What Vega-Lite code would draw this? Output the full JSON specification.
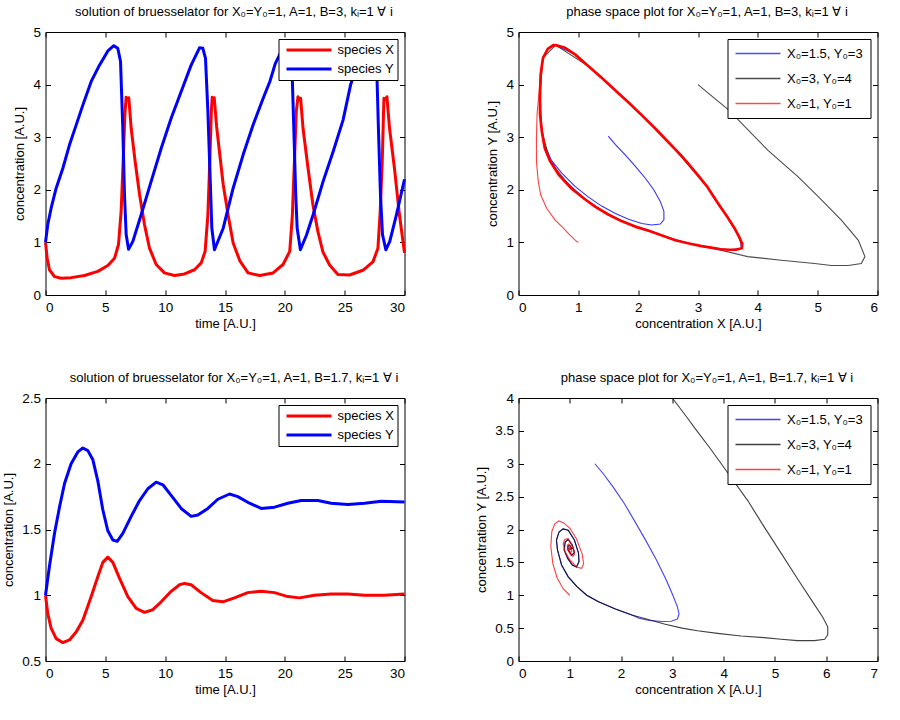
{
"$schema": "https://vega.github.io/schema/vega-lite/v6.json",
"background": "white",
"padding": {"left": 1.5, "top": 5, "right": 5, "bottom": 5},
"config": {
  "font": "Liberation Sans",
  "view": {"stroke": "#000", "strokeWidth": 1},
  "axis": {"domain": false, "grid": false, "ticks": true, "tickSize": -5, "tickColor": "#000", "tickWidth": 1, "labelFontSize": 13.5, "labelColor": "#000", "labelPadding": 10, "titleFontSize": 13, "titleFontWeight": "normal", "titleColor": "#000"},
  "axisX": {"titlePadding": 4},
  "axisY": {"titlePadding": 6},
  "title": {"fontSize": 13, "fontWeight": "normal", "color": "#000", "anchor": "middle", "frame": "group", "offset": 6, "dx": 9},
  "legend": {"title": null, "orient": "top-right", "offset": 7, "symbolType": "M-3.75,0H3.75", "symbolSize": 144, "labelFontSize": 13, "labelColor": "#000", "strokeColor": "#000", "fillColor": "#fff"}
},
"datasets": {
"ts3": [
{"t":0,"species":"species X","c":1.0},{"t":0.14,"species":"species X","c":0.70},{"t":0.33,"species":"species X","c":0.48},{"t":0.75,"species":"species X","c":0.35},{"t":1.31,"species":"species X","c":0.32},{"t":2.14,"species":"species X","c":0.33},{"t":3.26,"species":"species X","c":0.37},{"t":4.37,"species":"species X","c":0.45},{"t":5.21,"species":"species X","c":0.56},{"t":5.77,"species":"species X","c":0.70},{"t":6.1,"species":"species X","c":0.96},{"t":6.32,"species":"species X","c":1.59},{"t":6.49,"species":"species X","c":2.54},{"t":6.63,"species":"species X","c":3.42},{"t":6.74,"species":"species X","c":3.76},{"t":6.85,"species":"species X","c":3.71},{"t":6.96,"species":"species X","c":3.75},{"t":7.16,"species":"species X","c":3.17},{"t":7.49,"species":"species X","c":2.54},{"t":7.86,"species":"species X","c":1.91},{"t":8.27,"species":"species X","c":1.34},{"t":8.69,"species":"species X","c":0.89},{"t":9.25,"species":"species X","c":0.58},{"t":9.94,"species":"species X","c":0.42},{"t":10.78,"species":"species X","c":0.37},{"t":11.62,"species":"species X","c":0.40},{"t":12.45,"species":"species X","c":0.48},{"t":13.01,"species":"species X","c":0.61},{"t":13.34,"species":"species X","c":0.83},{"t":13.57,"species":"species X","c":1.53},{"t":13.73,"species":"species X","c":2.54},{"t":13.86,"species":"species X","c":3.5},{"t":13.93,"species":"species X","c":3.76},{"t":14.01,"species":"species X","c":3.70},{"t":14.1,"species":"species X","c":3.75},{"t":14.3,"species":"species X","c":3.2},{"t":14.6,"species":"species X","c":2.6},{"t":14.85,"species":"species X","c":2.1},{"t":15.26,"species":"species X","c":1.52},{"t":15.68,"species":"species X","c":0.99},{"t":16.24,"species":"species X","c":0.65},{"t":16.93,"species":"species X","c":0.42},{"t":17.9,"species":"species X","c":0.37},{"t":19.02,"species":"species X","c":0.42},{"t":19.85,"species":"species X","c":0.58},{"t":20.41,"species":"species X","c":0.83},{"t":20.63,"species":"species X","c":1.52},{"t":20.8,"species":"species X","c":2.54},{"t":20.96,"species":"species X","c":3.49},{"t":21.1,"species":"species X","c":3.77},{"t":21.24,"species":"species X","c":3.71},{"t":21.32,"species":"species X","c":3.74},{"t":21.52,"species":"species X","c":3.17},{"t":21.94,"species":"species X","c":2.41},{"t":22.35,"species":"species X","c":1.71},{"t":22.77,"species":"species X","c":1.20},{"t":23.18,"species":"species X","c":0.82},{"t":23.74,"species":"species X","c":0.57},{"t":24.44,"species":"species X","c":0.39},{"t":25.41,"species":"species X","c":0.38},{"t":26.52,"species":"species X","c":0.47},{"t":27.36,"species":"species X","c":0.63},{"t":27.78,"species":"species X","c":0.89},{"t":27.97,"species":"species X","c":1.59},{"t":28.14,"species":"species X","c":2.54},{"t":28.28,"species":"species X","c":3.74},{"t":28.42,"species":"species X","c":3.71},{"t":28.53,"species":"species X","c":3.77},{"t":28.75,"species":"species X","c":3.17},{"t":29.16,"species":"species X","c":2.41},{"t":29.58,"species":"species X","c":1.52},{"t":30.0,"species":"species X","c":0.80},
{"t":0,"species":"species Y","c":1.0},{"t":0.19,"species":"species Y","c":1.34},{"t":0.47,"species":"species Y","c":1.65},{"t":0.89,"species":"species Y","c":2.03},{"t":1.45,"species":"species Y","c":2.41},{"t":2.0,"species":"species Y","c":2.85},{"t":2.56,"species":"species Y","c":3.23},{"t":3.12,"species":"species Y","c":3.61},{"t":3.82,"species":"species Y","c":4.06},{"t":4.51,"species":"species Y","c":4.37},{"t":5.21,"species":"species Y","c":4.64},{"t":5.71,"species":"species Y","c":4.74},{"t":6.04,"species":"species Y","c":4.69},{"t":6.27,"species":"species Y","c":4.44},{"t":6.46,"species":"species Y","c":3.17},{"t":6.6,"species":"species Y","c":1.91},{"t":6.74,"species":"species Y","c":1.15},{"t":6.94,"species":"species Y","c":0.87},{"t":7.3,"species":"species Y","c":1.02},{"t":8.0,"species":"species Y","c":1.53},{"t":8.83,"species":"species Y","c":2.16},{"t":9.67,"species":"species Y","c":2.79},{"t":10.5,"species":"species Y","c":3.36},{"t":11.34,"species":"species Y","c":3.87},{"t":12.17,"species":"species Y","c":4.37},{"t":12.87,"species":"species Y","c":4.70},{"t":13.15,"species":"species Y","c":4.69},{"t":13.37,"species":"species Y","c":4.50},{"t":13.57,"species":"species Y","c":3.49},{"t":13.76,"species":"species Y","c":2.22},{"t":13.9,"species":"species Y","c":1.27},{"t":14.12,"species":"species Y","c":0.86},{"t":14.85,"species":"species Y","c":1.27},{"t":15.68,"species":"species Y","c":2.03},{"t":16.52,"species":"species Y","c":2.67},{"t":17.36,"species":"species Y","c":3.24},{"t":18.19,"species":"species Y","c":3.74},{"t":18.75,"species":"species Y","c":4.06},{"t":19.2,"species":"species Y","c":4.4},{"t":19.8,"species":"species Y","c":4.68},{"t":20.1,"species":"species Y","c":4.72},{"t":20.4,"species":"species Y","c":4.55},{"t":20.63,"species":"species Y","c":4.07},{"t":20.75,"species":"species Y","c":3.17},{"t":20.91,"species":"species Y","c":1.91},{"t":21.03,"species":"species Y","c":1.27},{"t":21.3,"species":"species Y","c":0.86},{"t":21.81,"species":"species Y","c":1.14},{"t":22.37,"species":"species Y","c":1.53},{"t":23.2,"species":"species Y","c":2.16},{"t":24.04,"species":"species Y","c":2.73},{"t":24.87,"species":"species Y","c":3.33},{"t":25.5,"species":"species Y","c":4.0},{"t":26.2,"species":"species Y","c":4.45},{"t":26.9,"species":"species Y","c":4.7},{"t":27.2,"species":"species Y","c":4.72},{"t":27.45,"species":"species Y","c":4.55},{"t":27.71,"species":"species Y","c":4.07},{"t":27.82,"species":"species Y","c":3.17},{"t":27.99,"species":"species Y","c":1.91},{"t":28.16,"species":"species Y","c":1.15},{"t":28.44,"species":"species Y","c":0.86},{"t":28.77,"species":"species Y","c":1.02},{"t":29.33,"species":"species Y","c":1.53},{"t":30.0,"species":"species Y","c":2.2}
],
"ts17": [
{"t":0,"species":"species X","c":1.0},{"t":0.19,"species":"species X","c":0.86},{"t":0.47,"species":"species X","c":0.75},{"t":0.89,"species":"species X","c":0.67},{"t":1.45,"species":"species X","c":0.64},{"t":2.0,"species":"species X","c":0.66},{"t":2.56,"species":"species X","c":0.72},{"t":3.12,"species":"species X","c":0.81},{"t":3.82,"species":"species X","c":0.99},{"t":4.37,"species":"species X","c":1.14},{"t":4.79,"species":"species X","c":1.25},{"t":5.21,"species":"species X","c":1.29},{"t":5.63,"species":"species X","c":1.25},{"t":6.18,"species":"species X","c":1.13},{"t":6.88,"species":"species X","c":0.99},{"t":7.58,"species":"species X","c":0.90},{"t":8.27,"species":"species X","c":0.87},{"t":8.97,"species":"species X","c":0.89},{"t":9.67,"species":"species X","c":0.95},{"t":10.5,"species":"species X","c":1.03},{"t":11.2,"species":"species X","c":1.08},{"t":11.62,"species":"species X","c":1.09},{"t":12.17,"species":"species X","c":1.08},{"t":13.0,"species":"species X","c":1.02},{"t":13.98,"species":"species X","c":0.96},{"t":14.82,"species":"species X","c":0.95},{"t":15.79,"species":"species X","c":0.98},{"t":16.9,"species":"species X","c":1.02},{"t":18.02,"species":"species X","c":1.03},{"t":19.14,"species":"species X","c":1.02},{"t":20.25,"species":"species X","c":0.99},{"t":21.23,"species":"species X","c":0.98},{"t":22.48,"species":"species X","c":1.0},{"t":23.87,"species":"species X","c":1.01},{"t":25.26,"species":"species X","c":1.01},{"t":26.66,"species":"species X","c":1.0},{"t":28.33,"species":"species X","c":1.0},{"t":30.0,"species":"species X","c":1.01},
{"t":0,"species":"species Y","c":1.0},{"t":0.33,"species":"species Y","c":1.22},{"t":0.75,"species":"species Y","c":1.47},{"t":1.17,"species":"species Y","c":1.67},{"t":1.59,"species":"species Y","c":1.85},{"t":2.14,"species":"species Y","c":2.0},{"t":2.7,"species":"species Y","c":2.09},{"t":3.12,"species":"species Y","c":2.12},{"t":3.54,"species":"species Y","c":2.10},{"t":3.96,"species":"species Y","c":2.03},{"t":4.37,"species":"species Y","c":1.87},{"t":4.79,"species":"species Y","c":1.65},{"t":5.21,"species":"species Y","c":1.49},{"t":5.63,"species":"species Y","c":1.42},{"t":5.99,"species":"species Y","c":1.41},{"t":6.46,"species":"species Y","c":1.47},{"t":7.16,"species":"species Y","c":1.60},{"t":7.86,"species":"species Y","c":1.72},{"t":8.55,"species":"species Y","c":1.81},{"t":9.25,"species":"species Y","c":1.86},{"t":9.81,"species":"species Y","c":1.84},{"t":10.5,"species":"species Y","c":1.76},{"t":11.34,"species":"species Y","c":1.66},{"t":12.17,"species":"species Y","c":1.60},{"t":12.73,"species":"species Y","c":1.61},{"t":13.57,"species":"species Y","c":1.66},{"t":14.4,"species":"species Y","c":1.73},{"t":15.38,"species":"species Y","c":1.77},{"t":16.07,"species":"species Y","c":1.75},{"t":17.05,"species":"species Y","c":1.70},{"t":18.02,"species":"species Y","c":1.66},{"t":19.14,"species":"species Y","c":1.67},{"t":20.25,"species":"species Y","c":1.70},{"t":21.36,"species":"species Y","c":1.72},{"t":22.76,"species":"species Y","c":1.72},{"t":23.87,"species":"species Y","c":1.70},{"t":25.26,"species":"species Y","c":1.69},{"t":26.66,"species":"species Y","c":1.70},{"t":28.05,"species":"species Y","c":1.715},{"t":30.0,"species":"species Y","c":1.71}
],
"cyc3": [
{"X":0.62,"Y":4.75},{"X":0.78,"Y":4.70},{"X":0.95,"Y":4.57},{"X":1.17,"Y":4.35},{"X":1.39,"Y":4.13},{"X":1.62,"Y":3.89},{"X":1.84,"Y":3.66},{"X":2.06,"Y":3.42},{"X":2.29,"Y":3.16},{"X":2.51,"Y":2.90},{"X":2.73,"Y":2.64},{"X":2.96,"Y":2.33},{"X":3.16,"Y":2.05},{"X":3.33,"Y":1.75},{"X":3.50,"Y":1.47},{"X":3.61,"Y":1.27},{"X":3.69,"Y":1.10},{"X":3.74,"Y":0.97},{"X":3.73,"Y":0.89},{"X":3.63,"Y":0.86},{"X":3.52,"Y":0.86},{"X":3.38,"Y":0.87},{"X":3.22,"Y":0.90},{"X":3.06,"Y":0.93},{"X":2.85,"Y":0.98},{"X":2.62,"Y":1.04},{"X":2.40,"Y":1.13},{"X":2.18,"Y":1.22},{"X":1.95,"Y":1.30},{"X":1.73,"Y":1.40},{"X":1.50,"Y":1.53},{"X":1.28,"Y":1.68},{"X":1.11,"Y":1.82},{"X":0.89,"Y":2.02},{"X":0.67,"Y":2.29},{"X":0.53,"Y":2.54},{"X":0.44,"Y":2.79},{"X":0.39,"Y":3.11},{"X":0.36,"Y":3.43},{"X":0.36,"Y":3.81},{"X":0.37,"Y":4.19},{"X":0.41,"Y":4.51},{"X":0.49,"Y":4.68},{"X":0.58,"Y":4.75},{"X":0.62,"Y":4.75}
],
"ph3": [
{"run":"X₀=1.5, Y₀=3","X":1.50,"Y":3.02},{"run":"X₀=1.5, Y₀=3","X":1.62,"Y":2.86},{"run":"X₀=1.5, Y₀=3","X":1.78,"Y":2.67},{"run":"X₀=1.5, Y₀=3","X":1.95,"Y":2.45},{"run":"X₀=1.5, Y₀=3","X":2.12,"Y":2.22},{"run":"X₀=1.5, Y₀=3","X":2.26,"Y":2.00},{"run":"X₀=1.5, Y₀=3","X":2.37,"Y":1.78},{"run":"X₀=1.5, Y₀=3","X":2.43,"Y":1.59},{"run":"X₀=1.5, Y₀=3","X":2.43,"Y":1.43},{"run":"X₀=1.5, Y₀=3","X":2.37,"Y":1.35},{"run":"X₀=1.5, Y₀=3","X":2.23,"Y":1.33},{"run":"X₀=1.5, Y₀=3","X":2.06,"Y":1.36},{"run":"X₀=1.5, Y₀=3","X":1.84,"Y":1.44},{"run":"X₀=1.5, Y₀=3","X":1.62,"Y":1.55},{"run":"X₀=1.5, Y₀=3","X":1.39,"Y":1.69},{"run":"X₀=1.5, Y₀=3","X":1.17,"Y":1.86},{"run":"X₀=1.5, Y₀=3","X":0.95,"Y":2.06},{"run":"X₀=1.5, Y₀=3","X":0.72,"Y":2.32},{"run":"X₀=1.5, Y₀=3","X":0.55,"Y":2.56},{"run":"X₀=1.5, Y₀=3","X":0.44,"Y":2.84},{"run":"X₀=1.5, Y₀=3","X":0.39,"Y":3.15},{"run":"X₀=1.5, Y₀=3","X":0.37,"Y":3.38},{"run":"X₀=1.5, Y₀=3","X":0.36,"Y":3.81},{"run":"X₀=1.5, Y₀=3","X":0.37,"Y":4.19},{"run":"X₀=1.5, Y₀=3","X":0.41,"Y":4.51},{"run":"X₀=1.5, Y₀=3","X":0.49,"Y":4.68},{"run":"X₀=1.5, Y₀=3","X":0.62,"Y":4.75},{"run":"X₀=1.5, Y₀=3","X":0.95,"Y":4.57},{"run":"X₀=1.5, Y₀=3","X":1.39,"Y":4.13},{"run":"X₀=1.5, Y₀=3","X":1.84,"Y":3.66},{"run":"X₀=1.5, Y₀=3","X":2.29,"Y":3.16},{"run":"X₀=1.5, Y₀=3","X":2.73,"Y":2.64},{"run":"X₀=1.5, Y₀=3","X":3.16,"Y":2.05},{"run":"X₀=1.5, Y₀=3","X":3.50,"Y":1.47},{"run":"X₀=1.5, Y₀=3","X":3.69,"Y":1.10},{"run":"X₀=1.5, Y₀=3","X":3.73,"Y":0.89},{"run":"X₀=1.5, Y₀=3","X":3.52,"Y":0.86},{"run":"X₀=1.5, Y₀=3","X":3.22,"Y":0.90},{"run":"X₀=1.5, Y₀=3","X":2.85,"Y":0.98},{"run":"X₀=1.5, Y₀=3","X":2.40,"Y":1.13},{"run":"X₀=1.5, Y₀=3","X":1.95,"Y":1.30},{"run":"X₀=1.5, Y₀=3","X":1.50,"Y":1.53},{"run":"X₀=1.5, Y₀=3","X":1.11,"Y":1.82},{"run":"X₀=1.5, Y₀=3","X":0.67,"Y":2.29},{"run":"X₀=1.5, Y₀=3","X":0.44,"Y":2.79},{"run":"X₀=1.5, Y₀=3","X":0.36,"Y":3.43},
{"run":"X₀=3, Y₀=4","X":3.0,"Y":4.0},{"run":"X₀=3, Y₀=4","X":3.51,"Y":3.52},{"run":"X₀=3, Y₀=4","X":4.17,"Y":2.75},{"run":"X₀=3, Y₀=4","X":4.67,"Y":2.25},{"run":"X₀=3, Y₀=4","X":5.01,"Y":1.87},{"run":"X₀=3, Y₀=4","X":5.40,"Y":1.42},{"run":"X₀=3, Y₀=4","X":5.68,"Y":1.04},{"run":"X₀=3, Y₀=4","X":5.79,"Y":0.73},{"run":"X₀=3, Y₀=4","X":5.73,"Y":0.60},{"run":"X₀=3, Y₀=4","X":5.51,"Y":0.56},{"run":"X₀=3, Y₀=4","X":5.23,"Y":0.56},{"run":"X₀=3, Y₀=4","X":4.95,"Y":0.60},{"run":"X₀=3, Y₀=4","X":4.39,"Y":0.66},{"run":"X₀=3, Y₀=4","X":3.83,"Y":0.73},{"run":"X₀=3, Y₀=4","X":3.50,"Y":0.82},{"run":"X₀=3, Y₀=4","X":3.27,"Y":0.88},{"run":"X₀=3, Y₀=4","X":3.06,"Y":0.93},{"run":"X₀=3, Y₀=4","X":2.62,"Y":1.04},{"run":"X₀=3, Y₀=4","X":2.18,"Y":1.22},{"run":"X₀=3, Y₀=4","X":1.73,"Y":1.40},{"run":"X₀=3, Y₀=4","X":1.28,"Y":1.68},{"run":"X₀=3, Y₀=4","X":0.89,"Y":2.02},{"run":"X₀=3, Y₀=4","X":0.53,"Y":2.54},{"run":"X₀=3, Y₀=4","X":0.39,"Y":3.11},{"run":"X₀=3, Y₀=4","X":0.36,"Y":3.81},{"run":"X₀=3, Y₀=4","X":0.41,"Y":4.51},{"run":"X₀=3, Y₀=4","X":0.62,"Y":4.75},{"run":"X₀=3, Y₀=4","X":1.17,"Y":4.35},{"run":"X₀=3, Y₀=4","X":1.84,"Y":3.66},{"run":"X₀=3, Y₀=4","X":2.51,"Y":2.90},{"run":"X₀=3, Y₀=4","X":3.16,"Y":2.05},{"run":"X₀=3, Y₀=4","X":3.61,"Y":1.27},{"run":"X₀=3, Y₀=4","X":3.74,"Y":0.97},
{"run":"X₀=1, Y₀=1","X":1.0,"Y":1.0},{"run":"X₀=1, Y₀=1","X":0.97,"Y":1.02},{"run":"X₀=1, Y₀=1","X":0.86,"Y":1.14},{"run":"X₀=1, Y₀=1","X":0.75,"Y":1.27},{"run":"X₀=1, Y₀=1","X":0.61,"Y":1.43},{"run":"X₀=1, Y₀=1","X":0.47,"Y":1.65},{"run":"X₀=1, Y₀=1","X":0.37,"Y":1.91},{"run":"X₀=1, Y₀=1","X":0.33,"Y":2.16},{"run":"X₀=1, Y₀=1","X":0.30,"Y":2.54},{"run":"X₀=1, Y₀=1","X":0.30,"Y":2.98},{"run":"X₀=1, Y₀=1","X":0.31,"Y":3.43},{"run":"X₀=1, Y₀=1","X":0.34,"Y":3.81},{"run":"X₀=1, Y₀=1","X":0.37,"Y":4.19},{"run":"X₀=1, Y₀=1","X":0.41,"Y":4.51},{"run":"X₀=1, Y₀=1","X":0.49,"Y":4.68},{"run":"X₀=1, Y₀=1","X":0.62,"Y":4.75}
],
"ph17": [
{"run":"X₀=1.5, Y₀=3","X":1.49,"Y":3.0},{"run":"X₀=1.5, Y₀=3","X":1.66,"Y":2.84},{"run":"X₀=1.5, Y₀=3","X":1.85,"Y":2.64},{"run":"X₀=1.5, Y₀=3","X":2.06,"Y":2.40},{"run":"X₀=1.5, Y₀=3","X":2.27,"Y":2.12},{"run":"X₀=1.5, Y₀=3","X":2.47,"Y":1.85},{"run":"X₀=1.5, Y₀=3","X":2.68,"Y":1.55},{"run":"X₀=1.5, Y₀=3","X":2.87,"Y":1.25},{"run":"X₀=1.5, Y₀=3","X":3.01,"Y":1.0},{"run":"X₀=1.5, Y₀=3","X":3.10,"Y":0.82},{"run":"X₀=1.5, Y₀=3","X":3.13,"Y":0.72},{"run":"X₀=1.5, Y₀=3","X":3.10,"Y":0.64},{"run":"X₀=1.5, Y₀=3","X":2.98,"Y":0.605},{"run":"X₀=1.5, Y₀=3","X":2.80,"Y":0.60},{"run":"X₀=1.5, Y₀=3","X":2.55,"Y":0.615},{"run":"X₀=1.5, Y₀=3","X":2.35,"Y":0.65},{"run":"X₀=1.5, Y₀=3","X":2.21,"Y":0.70},{"run":"X₀=1.5, Y₀=3","X":1.89,"Y":0.79},{"run":"X₀=1.5, Y₀=3","X":1.56,"Y":0.90},{"run":"X₀=1.5, Y₀=3","X":1.33,"Y":1.0},{"run":"X₀=1.5, Y₀=3","X":1.14,"Y":1.13},{"run":"X₀=1.5, Y₀=3","X":0.97,"Y":1.28},{"run":"X₀=1.5, Y₀=3","X":0.84,"Y":1.46},{"run":"X₀=1.5, Y₀=3","X":0.76,"Y":1.69},{"run":"X₀=1.5, Y₀=3","X":0.74,"Y":1.84},{"run":"X₀=1.5, Y₀=3","X":0.79,"Y":1.96},{"run":"X₀=1.5, Y₀=3","X":0.87,"Y":2.01},{"run":"X₀=1.5, Y₀=3","X":0.97,"Y":1.99},{"run":"X₀=1.5, Y₀=3","X":1.09,"Y":1.84},{"run":"X₀=1.5, Y₀=3","X":1.17,"Y":1.64},{"run":"X₀=1.5, Y₀=3","X":1.18,"Y":1.51},{"run":"X₀=1.5, Y₀=3","X":1.13,"Y":1.43},{"run":"X₀=1.5, Y₀=3","X":1.05,"Y":1.46},{"run":"X₀=1.5, Y₀=3","X":0.96,"Y":1.56},{"run":"X₀=1.5, Y₀=3","X":0.89,"Y":1.69},{"run":"X₀=1.5, Y₀=3","X":0.91,"Y":1.81},{"run":"X₀=1.5, Y₀=3","X":0.97,"Y":1.85},{"run":"X₀=1.5, Y₀=3","X":1.05,"Y":1.76},{"run":"X₀=1.5, Y₀=3","X":1.09,"Y":1.65},{"run":"X₀=1.5, Y₀=3","X":1.04,"Y":1.61},{"run":"X₀=1.5, Y₀=3","X":0.97,"Y":1.68},{"run":"X₀=1.5, Y₀=3","X":0.96,"Y":1.74},{"run":"X₀=1.5, Y₀=3","X":1.0,"Y":1.76},{"run":"X₀=1.5, Y₀=3","X":1.04,"Y":1.71},{"run":"X₀=1.5, Y₀=3","X":0.99,"Y":1.70},{"run":"X₀=1.5, Y₀=3","X":1.0,"Y":1.70},
{"run":"X₀=3, Y₀=4","X":3.0,"Y":4.0},{"run":"X₀=3, Y₀=4","X":3.29,"Y":3.70},{"run":"X₀=3, Y₀=4","X":3.46,"Y":3.52},{"run":"X₀=3, Y₀=4","X":3.75,"Y":3.22},{"run":"X₀=3, Y₀=4","X":4.10,"Y":2.84},{"run":"X₀=3, Y₀=4","X":4.47,"Y":2.44},{"run":"X₀=3, Y₀=4","X":4.79,"Y":2.04},{"run":"X₀=3, Y₀=4","X":5.12,"Y":1.64},{"run":"X₀=3, Y₀=4","X":5.44,"Y":1.25},{"run":"X₀=3, Y₀=4","X":5.71,"Y":0.93},{"run":"X₀=3, Y₀=4","X":5.93,"Y":0.67},{"run":"X₀=3, Y₀=4","X":6.03,"Y":0.52},{"run":"X₀=3, Y₀=4","X":6.03,"Y":0.40},{"run":"X₀=3, Y₀=4","X":5.97,"Y":0.33},{"run":"X₀=3, Y₀=4","X":5.77,"Y":0.31},{"run":"X₀=3, Y₀=4","X":5.44,"Y":0.31},{"run":"X₀=3, Y₀=4","X":5.12,"Y":0.33},{"run":"X₀=3, Y₀=4","X":4.79,"Y":0.355},{"run":"X₀=3, Y₀=4","X":4.34,"Y":0.38},{"run":"X₀=3, Y₀=4","X":3.88,"Y":0.42},{"run":"X₀=3, Y₀=4","X":3.49,"Y":0.46},{"run":"X₀=3, Y₀=4","X":3.19,"Y":0.50},{"run":"X₀=3, Y₀=4","X":2.86,"Y":0.56},{"run":"X₀=3, Y₀=4","X":2.53,"Y":0.63},{"run":"X₀=3, Y₀=4","X":2.21,"Y":0.70},{"run":"X₀=3, Y₀=4","X":1.89,"Y":0.79},{"run":"X₀=3, Y₀=4","X":1.56,"Y":0.90},{"run":"X₀=3, Y₀=4","X":1.33,"Y":1.0},{"run":"X₀=3, Y₀=4","X":1.14,"Y":1.13},{"run":"X₀=3, Y₀=4","X":0.97,"Y":1.28},{"run":"X₀=3, Y₀=4","X":0.84,"Y":1.46},{"run":"X₀=3, Y₀=4","X":0.76,"Y":1.69},{"run":"X₀=3, Y₀=4","X":0.74,"Y":1.84},{"run":"X₀=3, Y₀=4","X":0.79,"Y":1.96},{"run":"X₀=3, Y₀=4","X":0.87,"Y":2.01},{"run":"X₀=3, Y₀=4","X":0.97,"Y":1.99},{"run":"X₀=3, Y₀=4","X":1.09,"Y":1.84},{"run":"X₀=3, Y₀=4","X":1.17,"Y":1.64},{"run":"X₀=3, Y₀=4","X":1.18,"Y":1.51},{"run":"X₀=3, Y₀=4","X":1.13,"Y":1.43},{"run":"X₀=3, Y₀=4","X":1.05,"Y":1.46},{"run":"X₀=3, Y₀=4","X":0.96,"Y":1.56},{"run":"X₀=3, Y₀=4","X":0.89,"Y":1.69},{"run":"X₀=3, Y₀=4","X":0.91,"Y":1.81},{"run":"X₀=3, Y₀=4","X":0.97,"Y":1.85},{"run":"X₀=3, Y₀=4","X":1.05,"Y":1.76},{"run":"X₀=3, Y₀=4","X":1.09,"Y":1.65},{"run":"X₀=3, Y₀=4","X":1.04,"Y":1.61},{"run":"X₀=3, Y₀=4","X":0.97,"Y":1.68},{"run":"X₀=3, Y₀=4","X":0.96,"Y":1.74},{"run":"X₀=3, Y₀=4","X":1.0,"Y":1.76},{"run":"X₀=3, Y₀=4","X":1.04,"Y":1.71},{"run":"X₀=3, Y₀=4","X":0.99,"Y":1.70},{"run":"X₀=3, Y₀=4","X":1.0,"Y":1.70},
{"run":"X₀=1, Y₀=1","X":1.0,"Y":1.0},{"run":"X₀=1, Y₀=1","X":0.87,"Y":1.10},{"run":"X₀=1, Y₀=1","X":0.75,"Y":1.27},{"run":"X₀=1, Y₀=1","X":0.67,"Y":1.48},{"run":"X₀=1, Y₀=1","X":0.63,"Y":1.74},{"run":"X₀=1, Y₀=1","X":0.65,"Y":1.97},{"run":"X₀=1, Y₀=1","X":0.71,"Y":2.09},{"run":"X₀=1, Y₀=1","X":0.79,"Y":2.13},{"run":"X₀=1, Y₀=1","X":0.88,"Y":2.10},{"run":"X₀=1, Y₀=1","X":1.0,"Y":2.02},{"run":"X₀=1, Y₀=1","X":1.13,"Y":1.86},{"run":"X₀=1, Y₀=1","X":1.24,"Y":1.63},{"run":"X₀=1, Y₀=1","X":1.27,"Y":1.48},{"run":"X₀=1, Y₀=1","X":1.23,"Y":1.41},{"run":"X₀=1, Y₀=1","X":1.13,"Y":1.43},{"run":"X₀=1, Y₀=1","X":1.0,"Y":1.54},{"run":"X₀=1, Y₀=1","X":0.91,"Y":1.66},{"run":"X₀=1, Y₀=1","X":0.87,"Y":1.78},{"run":"X₀=1, Y₀=1","X":0.90,"Y":1.85},{"run":"X₀=1, Y₀=1","X":0.96,"Y":1.86},{"run":"X₀=1, Y₀=1","X":1.03,"Y":1.78},{"run":"X₀=1, Y₀=1","X":1.08,"Y":1.68},{"run":"X₀=1, Y₀=1","X":1.09,"Y":1.62},{"run":"X₀=1, Y₀=1","X":1.06,"Y":1.59},{"run":"X₀=1, Y₀=1","X":1.01,"Y":1.62},{"run":"X₀=1, Y₀=1","X":0.96,"Y":1.70},{"run":"X₀=1, Y₀=1","X":0.95,"Y":1.76},{"run":"X₀=1, Y₀=1","X":0.98,"Y":1.78},{"run":"X₀=1, Y₀=1","X":1.02,"Y":1.73},{"run":"X₀=1, Y₀=1","X":1.04,"Y":1.67},{"run":"X₀=1, Y₀=1","X":1.02,"Y":1.65},{"run":"X₀=1, Y₀=1","X":0.99,"Y":1.68},{"run":"X₀=1, Y₀=1","X":0.98,"Y":1.72},{"run":"X₀=1, Y₀=1","X":1.0,"Y":1.73},{"run":"X₀=1, Y₀=1","X":1.01,"Y":1.70},{"run":"X₀=1, Y₀=1","X":1.0,"Y":1.69},{"run":"X₀=1, Y₀=1","X":1.0,"Y":1.70}
]
},
"columns": 2,
"spacing": {"row": 103, "column": 114},
"bounds": "flush",
"resolve": {"scale": {"x": "independent", "y": "independent", "color": "independent"}, "legend": {"color": "independent"}},
"concat": [
{
 "width": 359, "height": 263,
 "title": {"text": "solution of bruesselator for X₀=Y₀=1, A=1, B=3, kᵢ=1 ∀ i"},
 "data": {"name": "ts3"},
 "resolve": {"axis": {"x": "independent", "y": "independent"}},
 "layer": [
  {"mark": {"type": "line", "strokeWidth": 3, "strokeJoin": "round"},
   "encoding": {
    "x": {"field": "t", "type": "quantitative", "scale": {"domain": [0, 30], "nice": false}, "axis": {"title": "time [A.U.]", "values": [0,5,10,15,20,25,30], "format": "~g"}},
    "y": {"field": "c", "type": "quantitative", "scale": {"domain": [0, 5], "nice": false}, "axis": {"title": "concentration [A.U.]", "values": [0,1,2,3,4,5], "format": "~g"}},
    "color": {"field": "species", "type": "nominal", "scale": {"domain": ["species X", "species Y"], "range": ["#ff0000", "#0000ff"]}, "legend": {"symbolStrokeWidth": 3, "padding": 3.5, "symbolOffset": 19.5, "labelOffset": 21, "rowPadding": 4, "labelExpr": "datum.label + '  '"}},
    "order": {"value": null}
   }},
  {"mark": {"type": "line", "opacity": 0},
   "encoding": {
    "x": {"field": "t", "type": "quantitative", "scale": {"domain": [0, 30], "nice": false}, "axis": {"orient": "top", "labels": false, "title": null, "values": [0,5,10,15,20,25,30]}},
    "y": {"field": "c", "type": "quantitative", "scale": {"domain": [0, 5], "nice": false}, "axis": {"orient": "right", "labels": false, "title": null, "values": [0,1,2,3,4,5]}},
    "detail": {"field": "species"},
    "order": {"value": null}
   }}
 ]
},
{
 "width": 359, "height": 263,
 "title": {"text": "phase space plot for X₀=Y₀=1, A=1, B=3, kᵢ=1 ∀ i"},
 "data": {"name": "ph3"},
 "resolve": {"axis": {"x": "independent", "y": "independent"}},
 "layer": [
  {"transform": [{"filter": {"field": "run", "equal": "X₀=1.5, Y₀=3"}}],
   "mark": {"type": "line", "strokeWidth": 1.1, "opacity": 0.8},
   "encoding": {
    "x": {"field": "X", "type": "quantitative", "scale": {"domain": [0, 6], "nice": false}, "axis": {"title": "concentration X [A.U.]", "values": [0,1,2,3,4,5,6], "format": "~g"}},
    "y": {"field": "Y", "type": "quantitative", "scale": {"domain": [0, 5], "nice": false}, "axis": {"title": "concentration Y [A.U.]", "values": [0,1,2,3,4,5], "format": "~g"}},
    "color": {"field": "run", "type": "nominal", "scale": {"domain": ["X₀=1.5, Y₀=3", "X₀=3, Y₀=4", "X₀=1, Y₀=1"], "range": ["#0000ff", "#000000", "#ff0000"]}, "legend": {"symbolStrokeWidth": 1.5, "symbolOpacity": 0.7, "padding": 7.5, "symbolOffset": 16, "labelOffset": 22, "rowPadding": 11}},
    "order": {"value": null}
   }},
  {"transform": [{"filter": {"field": "run", "equal": "X₀=3, Y₀=4"}}],
   "mark": {"type": "line", "strokeWidth": 1.1, "opacity": 0.7},
   "encoding": {
    "x": {"field": "X", "type": "quantitative", "scale": {"domain": [0, 6], "nice": false}, "axis": null},
    "y": {"field": "Y", "type": "quantitative", "scale": {"domain": [0, 5], "nice": false}, "axis": null},
    "color": {"field": "run", "type": "nominal"},
    "order": {"value": null}
   }},
  {"transform": [{"filter": {"field": "run", "equal": "X₀=1, Y₀=1"}}],
   "mark": {"type": "line", "strokeWidth": 1.1, "opacity": 0.75},
   "encoding": {
    "x": {"field": "X", "type": "quantitative", "scale": {"domain": [0, 6], "nice": false}, "axis": null},
    "y": {"field": "Y", "type": "quantitative", "scale": {"domain": [0, 5], "nice": false}, "axis": null},
    "color": {"field": "run", "type": "nominal"},
    "order": {"value": null}
   }},
  {"data": {"name": "cyc3"},
   "mark": {"type": "line", "strokeWidth": 2.7, "color": "#ff0000", "strokeJoin": "round"},
   "encoding": {
    "x": {"field": "X", "type": "quantitative", "scale": {"domain": [0, 6], "nice": false}, "axis": null},
    "y": {"field": "Y", "type": "quantitative", "scale": {"domain": [0, 5], "nice": false}, "axis": null},
    "order": {"value": null}
   }},
  {"mark": {"type": "line", "opacity": 0},
   "encoding": {
    "x": {"field": "X", "type": "quantitative", "scale": {"domain": [0, 6], "nice": false}, "axis": {"orient": "top", "labels": false, "title": null, "values": [0,1,2,3,4,5,6]}},
    "y": {"field": "Y", "type": "quantitative", "scale": {"domain": [0, 5], "nice": false}, "axis": {"orient": "right", "labels": false, "title": null, "values": [0,1,2,3,4,5]}},
    "detail": {"field": "run"},
    "order": {"value": null}
   }}
 ]
},
{
 "width": 359, "height": 263,
 "title": {"text": "solution of bruesselator for X₀=Y₀=1, A=1, B=1.7, kᵢ=1 ∀ i"},
 "data": {"name": "ts17"},
 "resolve": {"axis": {"x": "independent", "y": "independent"}},
 "layer": [
  {"mark": {"type": "line", "strokeWidth": 3, "strokeJoin": "round"},
   "encoding": {
    "x": {"field": "t", "type": "quantitative", "scale": {"domain": [0, 30], "nice": false}, "axis": {"title": "time [A.U.]", "values": [0,5,10,15,20,25,30], "format": "~g"}},
    "y": {"field": "c", "type": "quantitative", "scale": {"domain": [0.5, 2.5], "nice": false, "zero": false}, "axis": {"title": "concentration [A.U.]", "values": [0.5,1,1.5,2,2.5], "format": "~g"}},
    "color": {"field": "species", "type": "nominal", "scale": {"domain": ["species X", "species Y"], "range": ["#ff0000", "#0000ff"]}, "legend": {"symbolStrokeWidth": 3, "padding": 3.5, "symbolOffset": 19.5, "labelOffset": 21, "rowPadding": 4, "labelExpr": "datum.label + '  '"}},
    "order": {"value": null}
   }},
  {"mark": {"type": "line", "opacity": 0},
   "encoding": {
    "x": {"field": "t", "type": "quantitative", "scale": {"domain": [0, 30], "nice": false}, "axis": {"orient": "top", "labels": false, "title": null, "values": [0,5,10,15,20,25,30]}},
    "y": {"field": "c", "type": "quantitative", "scale": {"domain": [0.5, 2.5], "nice": false, "zero": false}, "axis": {"orient": "right", "labels": false, "title": null, "values": [0.5,1,1.5,2,2.5]}},
    "detail": {"field": "species"},
    "order": {"value": null}
   }}
 ]
},
{
 "width": 359, "height": 263,
 "title": {"text": "phase space plot for X₀=Y₀=1, A=1, B=1.7, kᵢ=1 ∀ i"},
 "data": {"name": "ph17"},
 "resolve": {"axis": {"x": "independent", "y": "independent"}},
 "layer": [
  {"transform": [{"filter": {"field": "run", "equal": "X₀=1.5, Y₀=3"}}],
   "mark": {"type": "line", "strokeWidth": 1.1, "opacity": 0.75},
   "encoding": {
    "x": {"field": "X", "type": "quantitative", "scale": {"domain": [0, 7], "nice": false}, "axis": {"title": "concentration X [A.U.]", "values": [0,1,2,3,4,5,6,7], "format": "~g"}},
    "y": {"field": "Y", "type": "quantitative", "scale": {"domain": [0, 4], "nice": false}, "axis": {"title": "concentration Y [A.U.]", "values": [0,0.5,1,1.5,2,2.5,3,3.5,4], "format": "~g"}},
    "color": {"field": "run", "type": "nominal", "scale": {"domain": ["X₀=1.5, Y₀=3", "X₀=3, Y₀=4", "X₀=1, Y₀=1"], "range": ["#0000ff", "#000000", "#ff0000"]}, "legend": {"symbolStrokeWidth": 1.5, "symbolOpacity": 0.7, "padding": 7.5, "symbolOffset": 16, "labelOffset": 22, "rowPadding": 11}},
    "order": {"value": null}
   }},
  {"transform": [{"filter": {"field": "run", "equal": "X₀=3, Y₀=4"}}],
   "mark": {"type": "line", "strokeWidth": 1.1, "opacity": 0.75},
   "encoding": {
    "x": {"field": "X", "type": "quantitative", "scale": {"domain": [0, 7], "nice": false}, "axis": null},
    "y": {"field": "Y", "type": "quantitative", "scale": {"domain": [0, 4], "nice": false}, "axis": null},
    "color": {"field": "run", "type": "nominal"},
    "order": {"value": null}
   }},
  {"transform": [{"filter": {"field": "run", "equal": "X₀=1, Y₀=1"}}],
   "mark": {"type": "line", "strokeWidth": 1.1, "opacity": 0.75},
   "encoding": {
    "x": {"field": "X", "type": "quantitative", "scale": {"domain": [0, 7], "nice": false}, "axis": null},
    "y": {"field": "Y", "type": "quantitative", "scale": {"domain": [0, 4], "nice": false}, "axis": null},
    "color": {"field": "run", "type": "nominal"},
    "order": {"value": null}
   }},
  {"mark": {"type": "line", "opacity": 0},
   "encoding": {
    "x": {"field": "X", "type": "quantitative", "scale": {"domain": [0, 7], "nice": false}, "axis": {"orient": "top", "labels": false, "title": null, "values": [0,1,2,3,4,5,6,7]}},
    "y": {"field": "Y", "type": "quantitative", "scale": {"domain": [0, 4], "nice": false}, "axis": {"orient": "right", "labels": false, "title": null, "values": [0,0.5,1,1.5,2,2.5,3,3.5,4]}},
    "detail": {"field": "run"},
    "order": {"value": null}
   }}
 ]
}
]
}
